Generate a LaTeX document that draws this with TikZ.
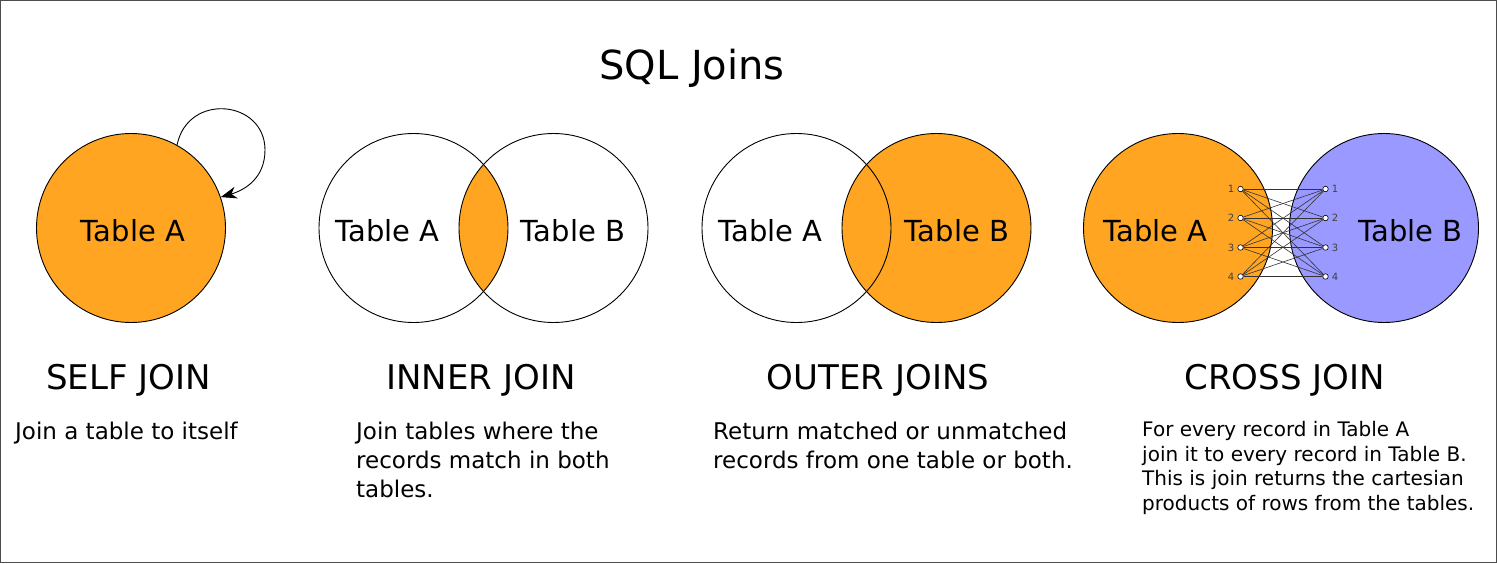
\documentclass[tikz,border=0pt]{standalone}
\usepackage{fontspec}
\setmainfont{DejaVu Sans}
\usetikzlibrary{arrows.meta}
\definecolor{joinorange}{HTML}{FFA521}
\definecolor{joinblue}{HTML}{9999FF}
\begin{document}
\begin{tikzpicture}[x=1pt,y=-1pt,
  tbl/.style={circle,draw=black,line width=0.9pt,minimum size=189pt,inner sep=0pt},
  lbl/.style={font=\fontsize{29}{34}\selectfont,anchor=base,inner sep=0pt},
  head/.style={font=\fontsize{34}{40}\selectfont,anchor=base,inner sep=0pt},
  desc/.style={font=\fontsize{23}{29}\selectfont,anchor=north west,align=left,inner sep=0pt},
  cdesc/.style={font=\fontsize{20}{24.5}\selectfont,anchor=north west,align=left,inner sep=0pt},
  rec/.style={circle,draw=black,fill=white,line width=0.6pt,minimum size=5.5pt,inner sep=0pt},
  num/.style={font=\fontsize{10}{12}\selectfont,text=black!75,inner sep=0pt},
  link/.style={draw=black!80,line width=0.6pt}]
\useasboundingbox (0,0) rectangle (1497,563);
\draw[black!70,line width=1pt] (0.5,0.5) rectangle (1496.5,562.5);

% title
\node[font=\fontsize{40}{46}\selectfont,anchor=base,inner sep=0pt] (title) at (692,79) {SQL Joins};

% self join
\node[tbl,fill=joinorange] (sa) at (131,228) {};
\node[lbl] (sal) at (133,241) {Table A};
\draw[line width=0.9pt,-{Stealth[length=16pt,width=12pt,inset=5pt]}]
  (sa.61) .. controls (188,92) and (265,100) .. (265,150)
  .. controls (265,178) and (245,190) .. (sa.19);

% inner join
\begin{scope}
  \clip (413.5,228) circle (94.5);
  \fill[joinorange] (553.5,228) circle (94.5);
\end{scope}
\node[tbl] (ia) at (413.5,228) {};
\node[tbl] (ib) at (553.5,228) {};
\node[lbl] (ial) at (387.5,241) {Table A};
\node[lbl] (ibl) at (573,241) {Table B};

% outer join
\node[tbl,fill=joinorange] (ob) at (936.5,228) {};
\node[tbl] (oa) at (796.5,228) {};
\node[lbl] (oal) at (770.5,241) {Table A};
\node[lbl] (obl) at (957,241) {Table B};

% cross join
\node[tbl,fill=joinorange] (ca) at (1178,228) {};
\node[tbl,fill=joinblue] (cb) at (1384,228) {};
\node[lbl] (cal) at (1155.5,241) {Table A};
\node[lbl] (cbl) at (1410.5,241) {Table B};
\foreach \i/\y in {1/189,2/218,3/247.5,4/276.5}{
  \node[rec] (l\i) at (1240.5,\y) {};
  \node[rec] (r\i) at (1325.5,\y) {};
  \node[num,anchor=east] (ln\i) at ([xshift=-3pt]l\i.west) {\i};
  \node[num,anchor=west] (rn\i) at ([xshift=3pt]r\i.east) {\i};
}
\foreach \i in {1,...,4}{
  \foreach \j in {1,...,4}{
    \draw[link] (l\i) -- (r\j);
  }
}

% headings
\node[head] (h1) at (128.5,389) {SELF JOIN};
\node[head] (h2) at (481,389) {INNER JOIN};
\node[head] (h3) at (878,389) {OUTER JOINS};
\node[head] (h4) at (1284.5,389) {CROSS JOIN};

% descriptions
\node[desc] (d1) at (15,421.5) {Join a table to itself};
\node[desc] (d2) at (356,421.5) {Join tables where the\\records match in both\\tables.};
\node[desc] (d3) at (713,421.5) {Return matched or unmatched\\records from one table or both.};
\node[cdesc] (d4) at (1142,421.5) {For every record in Table A\\join it to every record in Table B.\\This is join returns the cartesian\\products of rows from the tables.};
\end{tikzpicture}
\end{document}
